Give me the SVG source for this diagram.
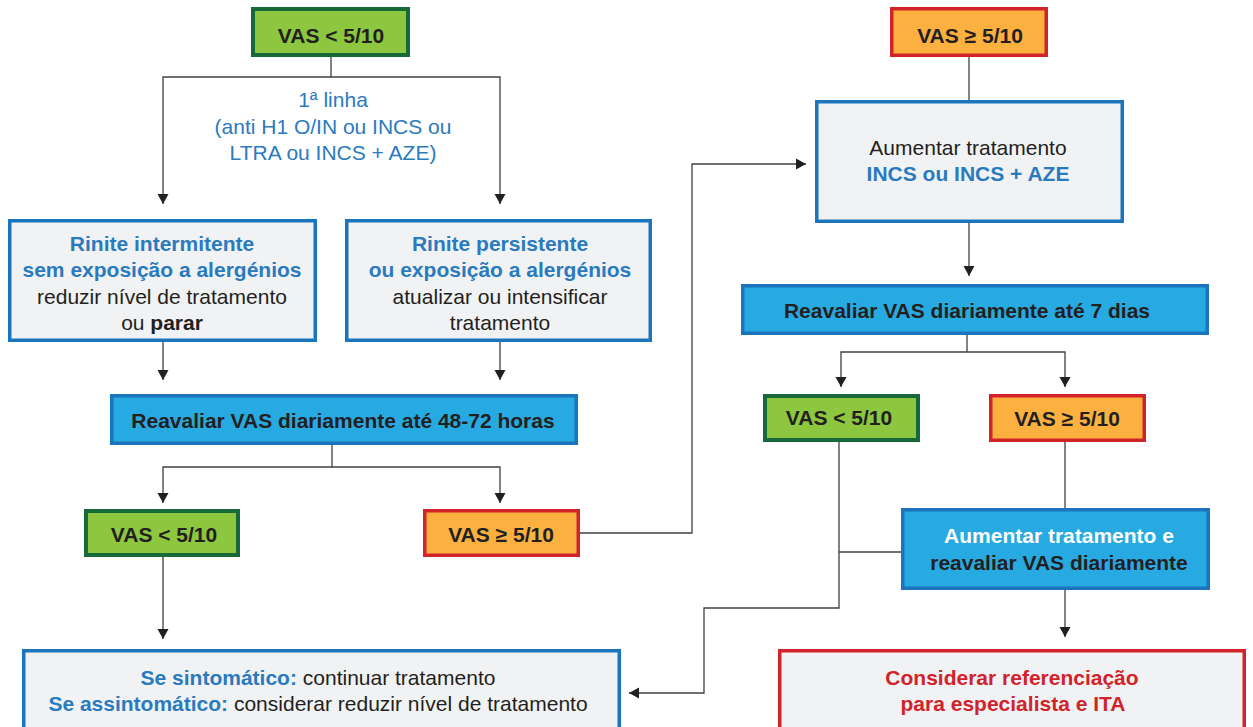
<svg xmlns="http://www.w3.org/2000/svg" width="1253" height="727" viewBox="0 0 1253 727">
<defs>
<marker id="arr" markerUnits="userSpaceOnUse" viewBox="0 0 10 12" refX="10" refY="6" markerWidth="10" markerHeight="12" orient="auto">
<path d="M0,0.5 L10,6 L0,11.5 z" fill="#231f20"/>
</marker>
<style>
text{font-family:"Liberation Sans",Arial,sans-serif;font-size:21px;text-anchor:middle;fill:#231f20}
.b{font-weight:bold}
.blue{fill:#2a7abf}
.red{fill:#d2232a}
.white{fill:#ffffff}
.green{fill:#8dc63f;stroke:#18693a;stroke-width:4}
.orange{fill:#fbb040;stroke:#d2232a;stroke-width:3.5}
.light{fill:#f1f2f4;stroke:#1b75bc;stroke-width:3.5}
.cyan{fill:#27aae1;stroke:#1b75bc;stroke-width:3.5}
.lightred{fill:#f1f2f4;stroke:#d2232a;stroke-width:3.5}
.c{fill:none;stroke:#404040;stroke-width:1.3}
.a{marker-end:url(#arr)}
</style>
</defs>
<g id="connectors">
<path class="c" d="M331,57 V77"/>
<path class="c a" d="M331,77 H163 V204"/>
<path class="c a" d="M331,77 H500 V204"/>
<path class="c a" d="M163,342 V380"/>
<path class="c a" d="M500,342 V380"/>
<path class="c" d="M332,445 V467"/>
<path class="c a" d="M332,467 H163 V503"/>
<path class="c a" d="M332,467 H500 V503"/>
<path class="c a" d="M163,557 V639"/>
<path class="c a" d="M580,533 H692 V164 H806"/>
<path class="c" d="M969,57 V100"/>
<path class="c a" d="M969,223 V276"/>
<path class="c" d="M967,335 V352"/>
<path class="c a" d="M967,352 H841 V387"/>
<path class="c a" d="M967,352 H1065 V387"/>
<path class="c a" d="M839,442 V608 H704 V693 H629"/>
<path class="c" d="M839,552 H901"/>
<path class="c" d="M1065,442 V508"/>
<path class="c a" d="M1065,590 V637"/>
</g>
<g id="vas-low-top">
<rect class="green" x="253" y="9" width="155" height="46"/>
<text class="b" x="331" y="43">VAS &lt; 5/10</text>
</g>
<g id="primeira-linha">
<text class="blue" x="333" y="107">1ª linha</text>
<text class="blue" x="333" y="133.5">(anti H1 O/IN ou INCS ou</text>
<text class="blue" x="333" y="160">LTRA ou INCS + AZE)</text>
</g>
<g id="rinite-intermitente">
<rect class="light" x="9.75" y="220.75" width="305.5" height="119.5"/>
<text class="b blue" x="162" y="251">Rinite intermitente</text>
<text class="b blue" x="162" y="277">sem exposição a alergénios</text>
<text x="162" y="303.5">reduzir nível de tratamento</text>
<text x="162" y="330">ou <tspan class="b">parar</tspan></text>
</g>
<g id="rinite-persistente">
<rect class="light" x="346.75" y="220.75" width="303.5" height="119.5"/>
<text class="b blue" x="500" y="251">Rinite persistente</text>
<text class="b blue" x="500" y="277">ou exposição a alergénios</text>
<text x="500" y="303.5">atualizar ou intensificar</text>
<text x="500" y="330">tratamento</text>
</g>
<g id="reavaliar-48-72">
<rect class="cyan" x="111.75" y="395.75" width="464.5" height="47.5"/>
<text class="b" x="343" y="428">Reavaliar VAS diariamente até 48-72 horas</text>
</g>
<g id="vas-low-left">
<rect class="green" x="86" y="511" width="152" height="44"/>
<text class="b" x="164" y="542">VAS &lt; 5/10</text>
</g>
<g id="vas-high-left">
<rect class="orange" x="424.75" y="510.75" width="153.5" height="44.5"/>
<text class="b" x="501" y="542">VAS ≥ 5/10</text>
</g>
<g id="sintomatico">
<rect class="light" x="23.75" y="650.75" width="595.5" height="100"/>
<text x="318" y="685"><tspan class="b blue">Se sintomático:</tspan> continuar tratamento</text>
<text x="318" y="711"><tspan class="b blue">Se assintomático:</tspan> considerar reduzir nível de tratamento</text>
</g>
<g id="vas-high-top">
<rect class="orange" x="891.75" y="8.75" width="154.5" height="46.5"/>
<text class="b" x="970" y="43">VAS ≥ 5/10</text>
</g>
<g id="aumentar-tratamento">
<rect class="light" x="816.75" y="101.75" width="305.5" height="119.5"/>
<text x="968" y="155">Aumentar tratamento</text>
<text class="b blue" x="968" y="181">INCS ou INCS + AZE</text>
</g>
<g id="reavaliar-7-dias">
<rect class="cyan" x="742.75" y="285.75" width="464.5" height="47.5"/>
<text class="b" x="967" y="318">Reavaliar VAS diariamente até 7 dias</text>
</g>
<g id="vas-low-right">
<rect class="green" x="765" y="396" width="153" height="44"/>
<text class="b" x="839" y="425">VAS &lt; 5/10</text>
</g>
<g id="vas-high-right">
<rect class="orange" x="990.75" y="395.75" width="153.5" height="44.5"/>
<text class="b" x="1067" y="426">VAS ≥ 5/10</text>
</g>
<g id="aumentar-reavaliar">
<rect class="cyan" x="902.75" y="509.75" width="305.5" height="78.5"/>
<text class="b white" x="1059" y="543">Aumentar tratamento e</text>
<text class="b" x="1059" y="570">reavaliar VAS diariamente</text>
</g>
<g id="referenciacao">
<rect class="lightred" x="779.75" y="650.75" width="464.5" height="100"/>
<text class="b red" x="1012" y="685">Considerar referenciação</text>
<text class="b red" x="1013" y="711">para especialista e ITA</text>
</g>
</svg>
